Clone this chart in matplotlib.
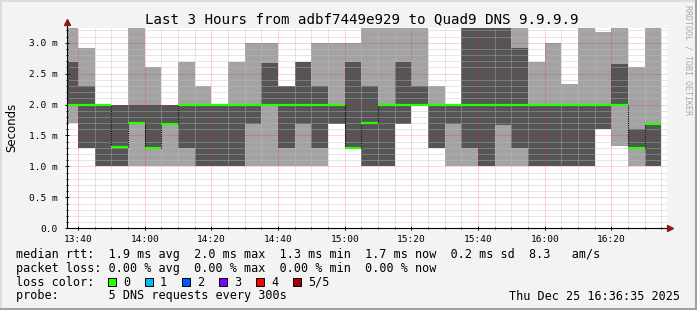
import matplotlib
matplotlib.use("Agg")
import matplotlib.pyplot as plt
import matplotlib.ticker as ticker
from matplotlib.patches import Rectangle
from matplotlib.lines import Line2D

# ── data: 5-minute bins (end time), sorted ping rtts in ms ────────────────────
bin_end = ["13:40", "13:45", "13:50", "13:55", "14:00", "14:05", "14:10", "14:15",
           "14:20", "14:25", "14:30", "14:35", "14:40", "14:45", "14:50", "14:55",
           "15:00", "15:05", "15:10", "15:15", "15:20", "15:25", "15:30", "15:35",
           "15:40", "15:45", "15:50", "15:55", "16:00", "16:05", "16:10", "16:15",
           "16:20", "16:25", "16:30", "16:35"]
ping1 = [1.70, 1.30, 1.00, 1.00, 1.00, 1.00, 1.00, 1.00, 1.00, 1.00, 1.00, 1.00,
         1.00, 1.00, 1.00, 1.00, 1.69, 1.30, 1.00, 1.00, 1.69, 2.00, 1.30, 1.00,
         1.00, 1.00, 1.00, 1.00, 1.00, 1.00, 1.00, 1.00, 1.60, 1.33, 1.00, 1.00]
ping2 = [2.00, 1.30, 1.00, 1.00, 1.70, 1.30, 1.69, 1.30, 1.00, 1.00, 1.00, 1.69,
         2.00, 1.30, 1.69, 1.30, 1.69, 1.30, 1.00, 1.00, 1.69, 2.00, 1.30, 1.69,
         1.30, 1.00, 1.67, 1.30, 1.00, 1.00, 1.00, 1.00, 1.60, 2.00, 1.30, 1.00]
median = [2.00, 2.00, 2.00, 1.32, 1.70, 1.30, 1.69, 2.00, 2.00, 2.00, 2.00, 2.00,
          2.00, 2.00, 2.00, 2.00, 2.00, 1.30, 1.70, 2.00, 2.00, 2.00, 2.00, 2.00,
          2.00, 2.00, 2.00, 2.00, 2.00, 2.00, 2.00, 2.00, 2.00, 2.00, 1.30, 1.69]
ping4 = [2.68, 2.30, 2.00, 2.00, 2.00, 2.00, 2.00, 2.00, 2.00, 2.00, 2.00, 2.00,
         2.67, 2.30, 2.69, 2.30, 2.00, 2.69, 2.30, 2.00, 2.69, 2.30, 2.00, 2.00,
         3.30, 3.30, 3.30, 2.91, 2.00, 2.00, 2.00, 2.00, 2.00, 2.66, 1.60, 1.69]
ping5 = [3.30, 2.91, 2.00, 2.00, 3.30, 2.61, 2.00, 2.69, 2.30, 2.00, 2.69, 3.00,
         3.00, 2.30, 2.69, 3.00, 3.00, 3.00, 3.30, 3.30, 3.30, 3.30, 2.30, 2.00,
         3.30, 3.30, 3.30, 3.30, 2.69, 3.00, 2.33, 3.30, 3.17, 3.30, 2.61, 3.30]

x_ticks = ["13:40", "14:00", "14:20", "14:40", "15:00", "15:20", "15:40", "16:00", "16:20"]
y_ticks = [0.0, 0.5, 1.0, 1.5, 2.0, 2.5, 3.0]
y_labels = ["0.0", "0.5 m", "1.0 m", "1.5 m", "2.0 m", "2.5 m", "3.0 m"]

loss_labels = ["0", "1", "2", "3", "4", "5/5"]
loss_colors = ["#26ff00", "#00b8ff", "#0059ff", "#7e00ff", "#ff0000", "#a10000"]

title = "Last 3 Hours from adbf7449e929 to Quad9 DNS 9.9.9.9"
legend_lines = [
    "median rtt:  1.9 ms avg  2.0 ms max  1.3 ms min  1.7 ms now  0.2 ms sd  8.3   am/s",
    "packet loss: 0.00 % avg  0.00 % max  0.00 % min  0.00 % now",
    "loss color:",
    "probe:       5 DNS requests every 300s",
]
stamp = "Thu Dec 25 16:36:35 2025"


def to_min(hhmm):
    h, m = hhmm.split(":")
    return int(h) * 60 + int(m)


W, H = 697, 310
MONO = "DejaVu Sans Mono"
LIGHT = "#a3a3a3"
DARK = "#555555"


def fx(px):
    return px / W


def fy(py):
    return 1 - py / H


fig = plt.figure(figsize=(W / 100, H / 100), dpi=100, facecolor="#f3f3f3")

# frame of the image
fig.add_artist(Line2D([fx(0.5), fx(0.5)], [fy(0), fy(H)], color="#dcdcdc", lw=1.5))
fig.add_artist(Line2D([fx(0), fx(W)], [fy(0.5), fy(0.5)], color="#dcdcdc", lw=1.5))
fig.add_artist(Line2D([fx(W - 1), fx(W - 1)], [fy(0), fy(H)], color="#a0a0a0", lw=1.5))
fig.add_artist(Line2D([fx(0), fx(W)], [fy(H - 1), fy(H - 1)], color="#a0a0a0", lw=1.5))

x0, x1 = 66.7, 666.7
y_top, y_bot = 28.3, 228.3
ax = fig.add_axes([fx(x0), fy(y_bot), (x1 - x0) / W, (y_bot - y_top) / H])
ax.set_facecolor("white")

t_end = to_min("16:36") + 35 / 60
ax.set_xlim(t_end - 180, t_end)
ax.set_ylim(0, (y_bot - y_top) / 61.87)

lefts = [to_min(b) - 5 for b in bin_end]

# smoke: outer pair light, inner pair dark
ax.bar(lefts, [b - a for a, b in zip(ping1, ping5)], bottom=ping1, width=5,
       align="edge", color=LIGHT, lw=0, zorder=1)
ax.bar(lefts, [b - a for a, b in zip(ping2, ping4)], bottom=ping2, width=5,
       align="edge", color=DARK, lw=0, zorder=2)

# median steps
for i in range(1, len(median)):
    if abs(median[i] - median[i - 1]) > 0.01:
        ax.vlines(lefts[i], min(median[i], median[i - 1]), max(median[i], median[i - 1]),
                  colors="black", linestyles=(0, (1, 1)), lw=0.8, zorder=4)
ax.hlines(median, lefts, [l + 5 for l in lefts], colors=loss_colors[0], lw=1.6, zorder=5)

# grid
ax.xaxis.set_major_locator(ticker.FixedLocator([to_min(t) for t in x_ticks]))
ax.xaxis.set_major_formatter(ticker.FixedFormatter(x_ticks))
ax.xaxis.set_minor_locator(ticker.MultipleLocator(5))
ax.yaxis.set_major_locator(ticker.FixedLocator(y_ticks))
ax.yaxis.set_major_formatter(ticker.FixedFormatter(y_labels))
ax.yaxis.set_minor_locator(ticker.MultipleLocator(0.1))
ax.set_axisbelow(False)
ax.grid(which="minor", color="#bcbcbc", alpha=0.75, lw=0.72, ls=(0, (1, 1)), zorder=3)
ax.grid(which="major", color="#ff0000", alpha=0.35, lw=0.72, ls=(0, (1, 1)), zorder=3)

ax.tick_params(which="both", direction="inout", color="black", width=0.7,
               labelsize=6.8, labelfontfamily=MONO, labelcolor="black")
ax.tick_params(which="major", length=3)
ax.tick_params(which="minor", length=2)
ax.tick_params(axis="x", pad=3)
ax.tick_params(axis="y", pad=5)

for s in ["top", "right", "left", "bottom"]:
    ax.spines[s].set_visible(False)

# axes with arrows
ax.plot([0, 0], [0, 1.02], transform=ax.transAxes, color="black", lw=0.8,
        clip_on=False, zorder=6)
ax.plot([0, 1.005], [0, 0], transform=ax.transAxes, color="black", lw=0.8,
        clip_on=False, zorder=6)
ax.plot([0], [1.03], transform=ax.transAxes, marker="^", ms=4.5, color="#8b1a1a",
        clip_on=False, zorder=7)
ax.plot([1.0055], [0], transform=ax.transAxes, marker=">", ms=4.5, color="#8b1a1a",
        clip_on=False, zorder=7)

# texts
fig.text(fx(362), fy(19), title, family=MONO, fontsize=10.2, ha="center", va="center")
fig.text(fx(12), fy(127), "Seconds", family="DejaVu Sans", fontsize=8.5,
         rotation=90, ha="center", va="center")
fig.text(fx(688), fy(5), "RRDTOOL / TOBI OETIKER", family=MONO, fontsize=6,
         rotation=270, ha="center", va="top", color="#aaaaaa")

line_y = [254.5, 268.2, 282.0, 296.0]
for txt, yy in zip(legend_lines, line_y):
    fig.text(fx(16), fy(yy), txt, family=MONO, fontsize=8.5, ha="left", va="center")

for i, (lab, col) in enumerate(zip(loss_labels, loss_colors)):
    bx = 108 + i * 37.06
    fig.add_artist(Rectangle((fx(bx), fy(285.7)), 8 / W, 8 / H, transform=fig.transFigure,
                             facecolor=col, edgecolor="black", lw=0.7))
    fig.text(fx(bx + 15), fy(282.0), lab, family=MONO, fontsize=8.5, ha="left", va="center")

fig.text(fx(680), fy(296.0), stamp, family=MONO, fontsize=8.5, ha="right", va="center")

fig.savefig("out.png", dpi=100, facecolor=fig.get_facecolor())
